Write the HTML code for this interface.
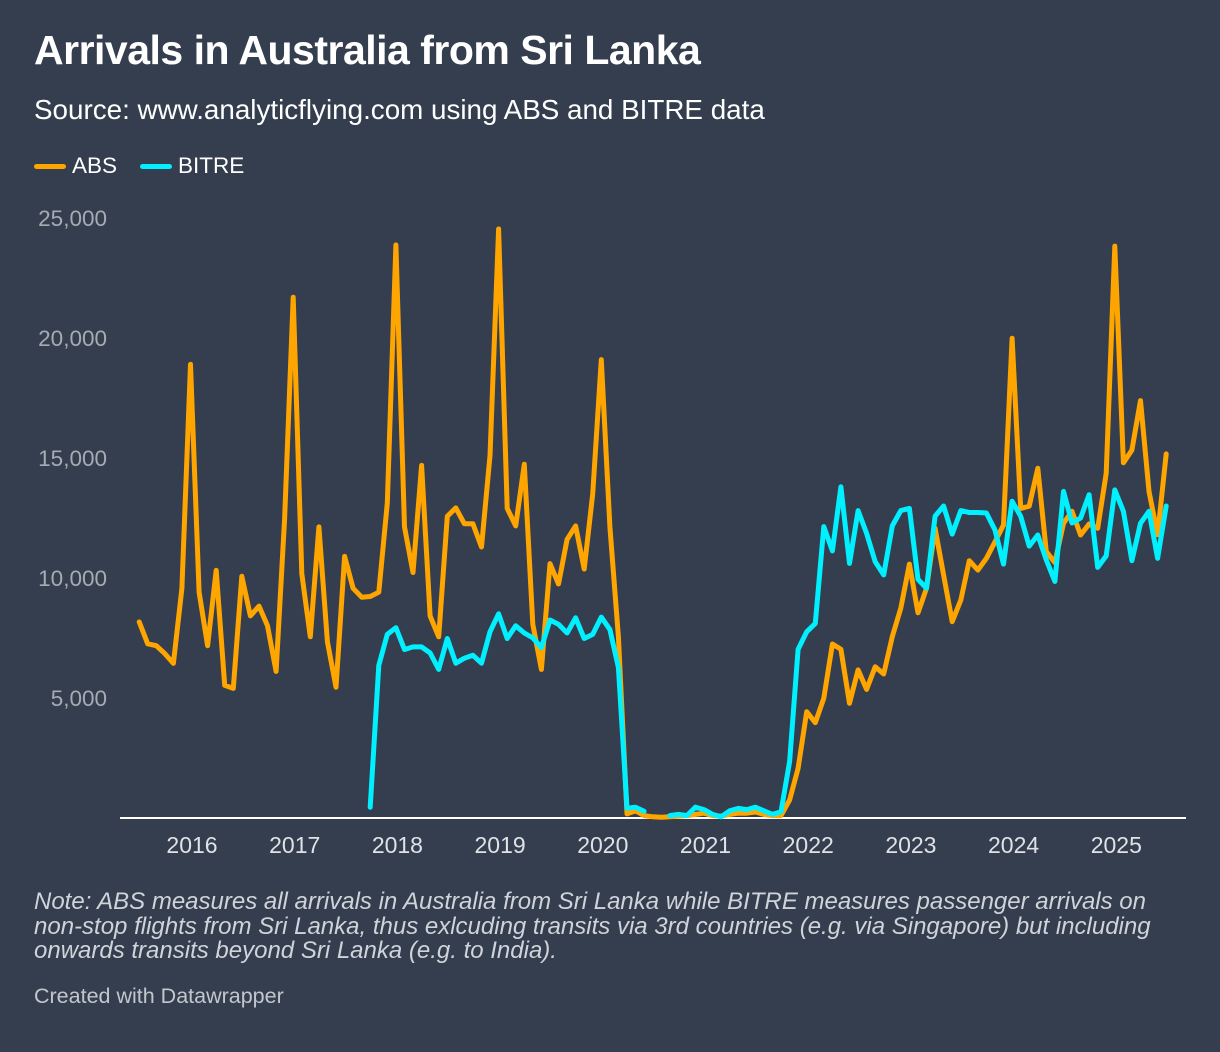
<!DOCTYPE html>
<html><head><meta charset="utf-8">
<style>
html,body{margin:0;padding:0;}
body{width:1220px;height:1052px;background:#343e4e;font-family:"Liberation Sans",sans-serif;position:relative;overflow:hidden;color:#fff;}
.abs{position:absolute;white-space:nowrap;}
#title{left:34px;top:27px;font-size:41px;font-weight:bold;letter-spacing:-0.5px;}
#sub{left:34px;top:94px;font-size:27.8px;}
.leg{position:absolute;top:153px;font-size:22.5px;}
.sw{position:absolute;width:32px;height:5px;border-radius:3px;top:164px;}
#note{left:34px;top:890px;font-size:24px;font-style:italic;color:#d0d4da;line-height:24.5px;}
#credit{left:34px;top:984px;font-size:21.5px;color:#c3c7cd;}
</style></head>
<body>
<div class="abs" id="title">Arrivals in Australia from Sri Lanka</div>
<div class="abs" id="sub">Source: www.analyticflying.com using ABS and BITRE data</div>
<div class="sw" style="left:34px;background:#ffa500"></div>
<div class="leg" style="left:72px">ABS</div>
<div class="sw" style="left:140px;background:#00f0ff"></div>
<div class="leg" style="left:178px">BITRE</div>
<svg id="chart" width="1220" height="1052" style="position:absolute;left:0;top:0"></svg>
<div class="abs" id="note">Note: ABS measures all arrivals in Australia from Sri Lanka while BITRE measures passenger arrivals on<br>non-stop flights from Sri Lanka, thus exlcuding transits via 3rd countries (e.g. via Singapore) but including<br>onwards transits beyond Sri Lanka (e.g. to India).</div>
<div class="abs" id="credit">Created with Datawrapper</div>
<script>
const startYear = 2015, startMonth = 6; // July 2015 (0-based month)
const absValues = [
8170,7260,7180,6850,6440,9570,
18900,9410,7180,10320,5530,5400,10070,8420,8830,8010,6110,12460,
21700,10180,7550,12130,7350,5450,10900,9570,9200,9230,9410,13120,
23880,12130,10230,14690,8420,7550,12570,12920,12260,12260,11290,15100,
24540,12900,12170,14740,8070,6190,10600,9750,11610,12170,10370,13500,
19100,12130,7550,170,300,100,50,30,50,80,100,150,
200,100,80,150,200,200,250,150,100,100,750,2070,
4430,3970,4990,7250,7030,4780,6170,5360,6300,6000,7560,8740,
10580,8550,9570,12070,10120,8180,9080,10720,10330,10820,11510,12210,
19990,12900,12990,14570,11100,10640,12280,12780,11790,12250,12070,14360,
23830,14800,15330,17390,13610,11800,15170];
const bitreValues = [
null,null,null,null,null,null,
null,null,null,null,null,null,null,null,null,null,null,null,
null,null,null,null,null,null,null,null,null,450,6360,7650,
7930,7020,7130,7130,6880,6190,7480,6450,6660,6780,6450,7760,
8510,7480,8010,7710,7510,7100,8250,8070,7710,8340,7480,7650,
8370,7850,6270,410,450,280,null,null,100,150,100,450,
350,150,50,300,400,350,450,300,150,260,2350,7030,
7760,8110,12140,11130,13800,10610,12810,11860,10680,10130,12170,12810,
12900,9940,9570,12580,13000,11830,12810,12730,12730,12710,12000,10580,
13200,12570,11330,11790,10750,9860,13610,12290,12500,13470,10440,10920,
13670,12780,10720,12280,12780,10820,13000];
const yTicks = [5000,10000,15000,20000,25000];
const yTickLabels = ["5,000","10,000","15,000","20,000","25,000"];
const xTicks = [2016,2017,2018,2019,2020,2021,2022,2023,2024,2025];

const NS = "http://www.w3.org/2000/svg";
const svg = document.getElementById('chart');
function xScale(t){ return 190.5 + (t - 2016) * 102.7; }
function yScale(v){ return 818 - v * 0.024; }
function tOf(i){ return startYear + (startMonth + i) / 12; }
function mk(tag, attrs){ const e = document.createElementNS(NS, tag); for (const k in attrs) e.setAttribute(k, attrs[k]); svg.appendChild(e); return e; }

yTicks.forEach((v, i) => {
  const t = mk('text', {x: 107, y: yScale(v) + 8, 'text-anchor': 'end', fill: '#a7abb2', 'font-size': '22.5', 'font-family': 'Liberation Sans, sans-serif'});
  t.textContent = yTickLabels[i];
  
  
});
xTicks.forEach(y => {
  const t = mk('text', {x: xScale(y) + 1.5, y: 853, 'text-anchor': 'middle', fill: '#dfe2e6', 'font-size': '23', 'font-family': 'Liberation Sans, sans-serif'});
  t.textContent = String(y);
  
  
});
const ax = mk('line', {x1: 120, x2: 1186, y1: 818, y2: 818, stroke: '#ffffff', 'stroke-width': 2});



function pathFor(vals){
  let d = '', pen = false;
  vals.forEach((v, i) => {
    if (v === null) { pen = false; return; }
    d += (pen ? 'L' : 'M') + xScale(tOf(i)).toFixed(1) + ',' + yScale(v).toFixed(1);
    pen = true;
  });
  return d;
}
const pa = mk('path', {d: pathFor(absValues), fill: 'none', stroke: '#ffa500', 'stroke-width': 5, 'stroke-linejoin': 'round', 'stroke-linecap': 'round'});


const pb = mk('path', {d: pathFor(bitreValues), fill: 'none', stroke: '#00f0ff', 'stroke-width': 5, 'stroke-linejoin': 'round', 'stroke-linecap': 'round'});


</script>
</body></html>
